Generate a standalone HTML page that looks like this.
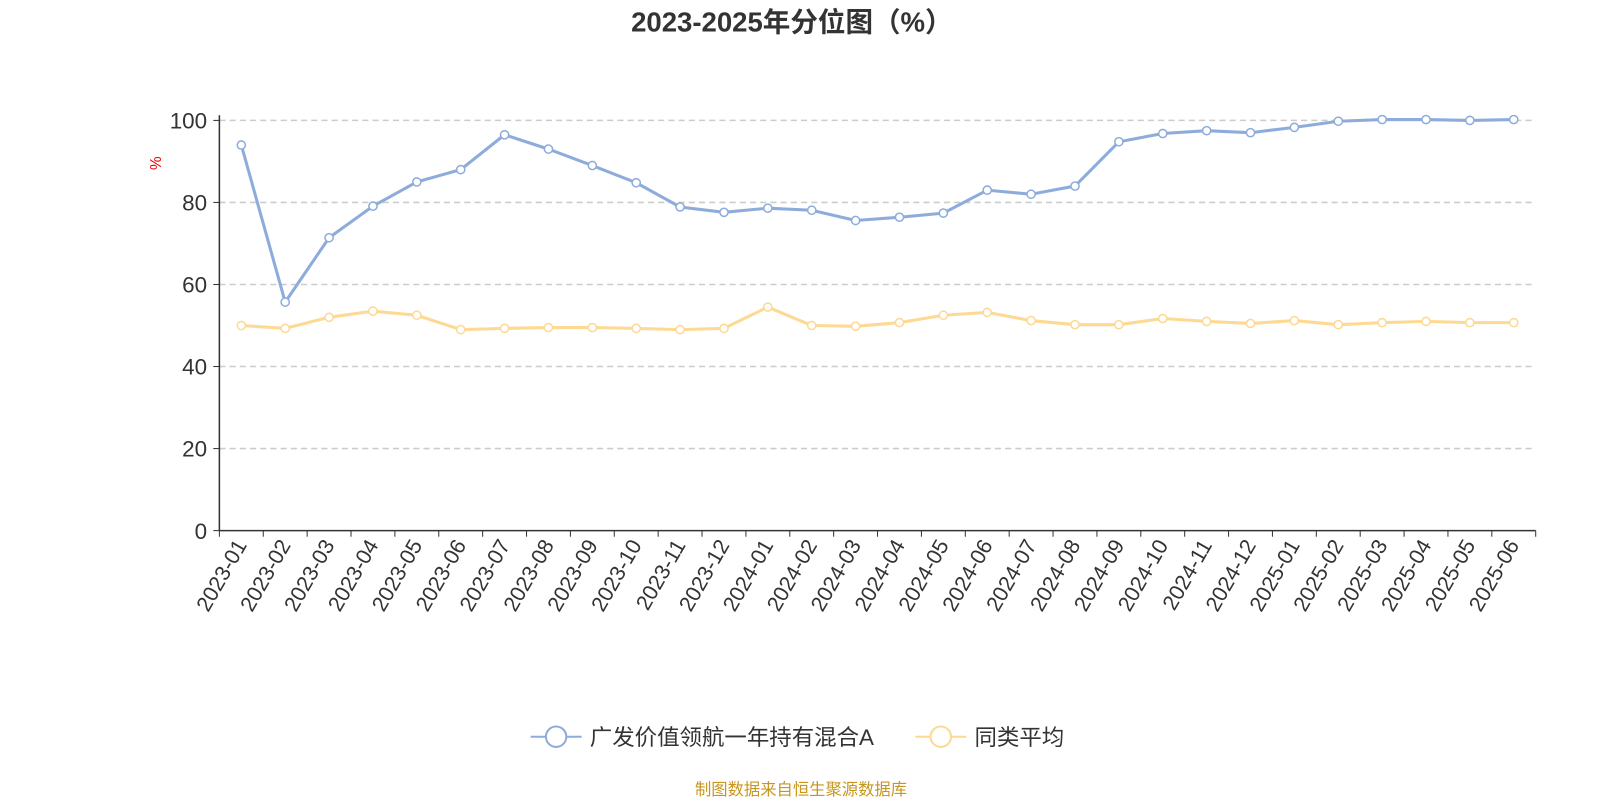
<!DOCTYPE html>
<html><head><meta charset="utf-8"><style>
body{margin:0;background:#fff;}
svg text{font-family:"Liberation Sans","Noto Sans CJK SC",sans-serif;}
</style></head><body>
<svg id="chart" width="1600" height="800" xmlns="http://www.w3.org/2000/svg">
<g transform="scale(1.0204)">
<text x="776" y="31" text-anchor="middle" font-size="27" font-weight="bold" fill="#333">2023-2025年分位图（%）</text>
<text x="0" y="0" transform="translate(158,160) rotate(-90)" text-anchor="middle" font-size="15" fill="#e00">%</text>
<g id="grid"></g><g id="axes"></g><g id="series"></g>
<g>
<line x1="520" y1="722" x2="570" y2="722" stroke="#8eacdb" stroke-width="2"/>
<circle cx="545" cy="722" r="10" fill="#fff" stroke="#8eacdb" stroke-width="2"/>
<text x="578" y="730" font-size="22" fill="#333">广发价值领航一年持有混合A</text>
<line x1="897" y1="722" x2="947" y2="722" stroke="#fdd993" stroke-width="2"/>
<circle cx="922" cy="722" r="10" fill="#fff" stroke="#fdd993" stroke-width="2"/>
<text x="955" y="730" font-size="22" fill="#333">同类平均</text>
</g>
<text x="785" y="779" text-anchor="middle" font-size="16" fill="#c8961e">制图数据来自恒生聚源数据库</text>
</g>
</svg>
<script>
const categories=["2023-01","2023-02","2023-03","2023-04","2023-05","2023-06","2023-07","2023-08","2023-09","2023-10","2023-11","2023-12","2024-01","2024-02","2024-03","2024-04","2024-05","2024-06","2024-07","2024-08","2024-09","2024-10","2024-11","2024-12","2025-01","2025-02","2025-03","2025-04","2025-05","2025-06"];
const fundValues=[94,55.7,71.4,79.1,85,88,96.5,93,89,84.8,78.9,77.6,78.6,78.1,75.6,76.4,77.4,83,82,84,94.8,96.8,97.5,97,98.3,99.8,100.2,100.2,100,100.2];
const avgValues=[50,49.3,52,53.5,52.5,49,49.3,49.5,49.5,49.3,49,49.3,54.5,50,49.8,50.7,52.5,53.2,51.2,50.2,50.2,51.7,51,50.5,51.2,50.2,50.7,51,50.7,50.7];
const yTicks=[0,20,40,60,80,100];
const NS="http://www.w3.org/2000/svg";
const x0=215,x1=1505,y0=520,y1=118;
const band=(x1-x0)/categories.length;
const xPos=i=>x0+band*(i+0.5);
const yPos=v=>y0-(v/100)*(y0-y1);
function mk(tag,attrs,parent){const e=document.createElementNS(NS,tag);for(const k in attrs)e.setAttribute(k,attrs[k]);parent.appendChild(e);return e;}
const grid=document.getElementById('grid'),axes=document.getElementById('axes'),series=document.getElementById('series');
yTicks.forEach(t=>{const y=yPos(t);
 if(t>0){const g=mk('line',{x1:x0,x2:x1,y1:y,y2:y,stroke:'#ccc','stroke-dasharray':'6,4','stroke-width':1.5},grid);
 
 }
 const tk=mk('line',{x1:x0-6,x2:x0,y1:y,y2:y,stroke:'#333'},axes);
 
 
 const tx=mk('text',{x:x0-12,y:y+8,'text-anchor':'end','font-size':22,fill:'#333'},axes);tx.textContent=t;
 
 
});
const ya=mk('line',{x1:x0,x2:x0,y1:y1-5,y2:y0,stroke:'#333','stroke-width':1.5},axes);


const xa=mk('line',{x1:x0,x2:x1,y1:y0,y2:y0,stroke:'#333','stroke-width':1.5},axes);


for(let i=0;i<=categories.length;i++){const x=x0+band*i;
 const tk=mk('line',{x1:x,x2:x,y1:y0,y2:y0+6,stroke:'#333'},axes);
 
 }
categories.forEach((c,i)=>{const x=xPos(i)+6,y=y0+14;
 const t=mk('text',{x:x,y:y,'text-anchor':'end','font-size':21,fill:'#333',transform:`rotate(-60 ${x} ${y})`},axes);t.textContent=c;
 
 
});
function draw(vals,color,name){
 const p=mk('polyline',{points:vals.map((v,i)=>xPos(i)+','+yPos(v)).join(' '),fill:'none',stroke:color,'stroke-width':3},series);
 
 
 vals.forEach((v,i)=>{const c=mk('circle',{cx:xPos(i),cy:yPos(v),r:4,fill:'#fff',stroke:color,'stroke-width':1.5},series);
 
 });
}
draw(avgValues,'#fdd993','avg');
draw(fundValues,'#8eacdb','fund');
</script>
</body></html>
